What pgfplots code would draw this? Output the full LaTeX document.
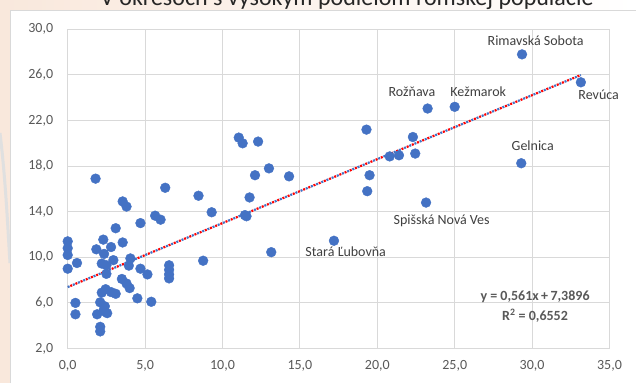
\documentclass[border=0pt]{standalone}
\usepackage{fontspec}
\setmainfont{Carlito}
\usepackage{pgfplots}
\pgfplotsset{compat=1.18}
\definecolor{ptblue}{HTML}{4472C4}
\definecolor{gridgray}{HTML}{D9D9D9}
\definecolor{ticktext}{HTML}{595959}
\definecolor{lbltext}{HTML}{404040}
\definecolor{bgpeach}{RGB}{249,232,220}
\definecolor{trred}{HTML}{FF0000}
\definecolor{trblue}{HTML}{4472C4}
\begin{document}
\begin{tikzpicture}[x=1pt,y=1pt]
\useasboundingbox (0,0) rectangle (636,383);
\fill[white] (0,0) rectangle (636,383);
\fill[left color=bgpeach, right color=white] (0,372) rectangle (636,383);
\fill[bgpeach] (0,0) rectangle (10,383);
\draw[black!12, line width=3pt] (0,250) .. controls (6,200) and (8,150) .. (10,120);
\node[anchor=base, font=\fontsize{24}{28}\selectfont, text=black!85, inner sep=0pt] at (347,377.5) {V okresoch s vysokým podielom rómskej populácie};
\fill[white] (10,0) rectangle (636,372);
\draw[gridgray, line width=1pt] (10,0) -- (10,372) -- (636,372);
\begin{axis}[
  at={(67.7pt,34.5pt)}, anchor=south west,
  scale only axis, width=541.8pt, height=319.2pt,
  xmin=0, xmax=35, ymin=2, ymax=30,
  xtick={0,5,...,35}, ytick={2,6,...,30},
  grid=major, grid style={gridgray, line width=1pt},
  axis line style={gridgray, line width=1pt},
  major tick length=0pt,
  clip=false,
  /pgf/number format/.cd, fixed, fixed zerofill, precision=1, use comma, assume math mode=true,
  /pgfplots/.cd,
  ticklabel style={font=\fontsize{14}{16}\selectfont, text=ticktext, inner sep=0pt},
  yticklabel style={anchor=east, xshift=-14.4pt},
  xticklabel style={anchor=north, yshift=-12pt},
]
\addplot[only marks, mark=*, mark size=4.9pt, mark options={fill=ptblue, draw=ptblue}] coordinates {
(0,11.4) (0,10.8) (0,10.2) (0,9.0)
(0.5,6.0) (0.5,5.0) (0.6,9.5)
(1.8,16.9) (1.85,10.7) (1.9,5.0)
(2.1,6.05) (2.1,3.9) (2.1,3.5)
(2.2,9.45) (2.2,6.9)
(2.3,11.55) (2.35,10.3) (2.3,5.3)
(2.45,7.2) (2.4,5.7)
(2.5,9.3) (2.5,8.55) (2.55,5.1)
(2.8,10.9) (2.8,6.95) (2.95,9.75)
(3.1,12.55) (3.1,6.8)
(3.5,8.1) (3.55,14.9) (3.55,11.3)
(3.8,14.45) (3.8,7.7) (3.95,9.27) (4.0,7.3) (4.05,9.9)
(4.5,6.4) (4.7,13.0) (4.7,9.0)
(5.15,8.5) (5.4,6.1)
(5.65,13.65) (6.0,13.3) (6.3,16.1)
(6.55,9.3) (6.55,8.9) (6.55,8.5) (6.55,8.15)
(8.45,15.4) (8.75,9.7) (9.3,13.95)
(11.05,20.5) (11.3,20.0) (12.3,20.15)
(13.0,17.8) (12.1,17.2) (14.3,17.1)
(11.75,15.25) (11.45,13.7) (11.55,13.6)
(13.15,10.45) (17.2,11.45)
(19.3,21.2) (19.5,17.2) (19.35,15.8)
(20.8,18.85) (21.4,18.95)
(22.3,20.55) (22.45,19.1)
(23.25,23.05) (25.0,23.2)
(23.15,14.8) (29.3,18.25) (29.35,27.8) (33.15,25.35)
};
\addplot[trblue, line width=2.2pt, dash pattern=on 2pt off 3.6pt] coordinates {(0,7.3896) (33.15,25.987)};
\addplot[trred, line width=2.2pt, dash pattern=on 2pt off 3.6pt, dash phase=2.8pt] coordinates {(0,7.3896) (33.15,25.987)};
\begin{scope}[every node/.style={font=\fontsize{14}{16}\selectfont, text=lbltext, inner sep=0pt}]
\node at (axis cs:30.23,29.0) {Rimavská Sobota};
\node at (axis cs:22.24,24.55) {Rožňava};
\node at (axis cs:26.52,24.55) {Kežmarok};
\node at (axis cs:34.3,24.26) {Revúca};
\node at (axis cs:30.04,19.8) {Gelnica};
\node at (axis cs:24.16,13.22) {Spišská Nová Ves};
\node at (axis cs:17.96,10.5) {Stará Ľubovňa};
\end{scope}
\begin{scope}[every node/.style={font=\bfseries\fontsize{14}{16}\selectfont, text=ticktext, inner sep=0pt}]
\node at (axis cs:30.19,6.55) {y = 0,561x\,+\,7,3896};
\node at (axis cs:30.19,4.85) {R\textsuperscript{2} = 0,6552};
\end{scope}
\end{axis}
\end{tikzpicture}
\end{document}
